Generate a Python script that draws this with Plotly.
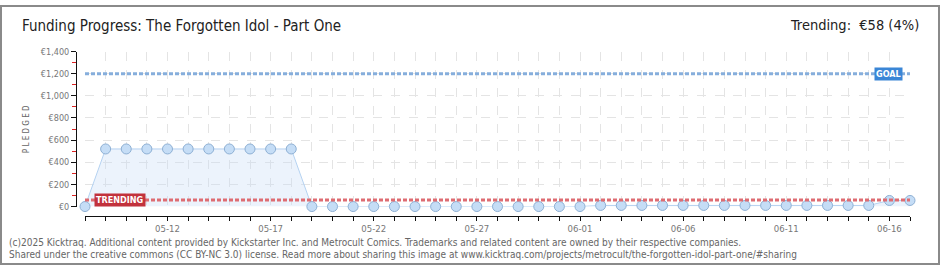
import plotly.graph_objects as go
import pandas as pd

# ---- data ----
dates = pd.date_range("2025-05-08", "2025-06-17", freq="D").strftime("%Y-%m-%d").tolist()
pledged = ([0] + [520] * 10 + [0] * 14 + [10] * 14 + [55, 55])
goal = 1200
trending = 58
title_text = "Funding Progress: The Forgotten Idol - Part One"
trend_text = "Trending:  €58 (4%)"
footer1 = "(c)2025 Kicktraq. Additional content provided by Kickstarter Inc. and Metrocult Comics. Trademarks and related content are owned by their respective companies."
footer2 = "Shared under the creative commons (CC BY-NC 3.0) license. Read more about sharing this image at www.kicktraq.com/projects/metrocult/the-forgotten-idol-part-one/#sharing"

W, H = 940, 270
px = lambda x: x / W
py = lambda y: 1 - y / H

NARROW = "Liberation Sans Narrow, DejaVu Sans Condensed, Arial Narrow, sans-serif"
TICKF = "DejaVu Sans Condensed, DejaVu Sans, sans-serif"

fig = go.Figure()

fig.add_trace(go.Scatter(
    x=dates, y=pledged, mode="lines+markers",
    line=dict(color="#b5d2f1", width=1),
    fill="tozeroy", fillcolor="rgba(200,222,247,0.35)",
    marker=dict(size=10, color="#c5ddf6", line=dict(color="#8eb0d4", width=1)),
    cliponaxis=False, showlegend=False, hoverinfo="x+y",
))

# goal & trending lines
for val, col in [(goal, "#86aedc"), (trending, "#de6c72")]:
    fig.add_shape(type="line", xref="x", yref="y", x0=dates[0], x1=dates[-1], y0=val, y1=val,
                  line=dict(color=col, width=3, dash="4px,2px"), layer="above")

fig.update_layout(
    width=W, height=H,
    margin=dict(l=0, r=0, t=0, b=0),
    paper_bgcolor="white", plot_bgcolor="white",
    xaxis=dict(
        domain=[px(85), px(910)],
        anchor="free", position=py(219),
        range=[dates[0], dates[-1]],
        type="date",
        tick0="2025-05-12", dtick=5 * 86400000, tickformat="%m-%d",
        ticks="outside", ticklen=4, tickcolor="#111", tickwidth=1,
        showline=True, linecolor="#111", linewidth=1,
        showgrid=True, gridcolor="#e4e4e4", griddash="dash", gridwidth=1,
        tickfont=dict(family=TICKF, size=9.5, color="#777"),
        minor=dict(dtick=86400000, ticks="outside", ticklen=4, tickcolor="#111",
                   showgrid=True, gridcolor="#e4e4e4", griddash="dash"),
        zeroline=False, fixedrange=True,
    ),
    yaxis=dict(
        domain=[py(209.3), py(48.3)],
        anchor="free", position=px(76),
        range=[0, 1400],
        dtick=200, tickprefix="€", tickformat=",d",
        ticks="outside", ticklen=5, tickcolor="#111", tickwidth=1,
        showline=True, linecolor="#111", linewidth=1,
        showgrid=True, gridcolor="#e4e4e4", griddash="dash",
        tickfont=dict(family=TICKF, size=9, color="#777"),
        minor=dict(dtick=100, ticks="outside", ticklen=4, tickcolor="#dd2222", showgrid=False),
        zeroline=False, fixedrange=True,
    ),
)

ann = [
    dict(x=px(20), y=py(22), text=title_text, xanchor="left", yanchor="middle",
         font=dict(family=NARROW, size=15, color="#222")),
    dict(x=px(921), y=py(21), text=trend_text, xanchor="right", yanchor="middle",
         font=dict(family=NARROW, size=14.5, color="#222")),
    dict(x=px(7), y=py(246.5), text=footer1, xanchor="left", yanchor="middle",
         font=dict(family=NARROW, size=10, color="#666")),
    dict(x=px(7), y=py(259.5), text=footer2, xanchor="left", yanchor="middle",
         font=dict(family=NARROW, size=10, color="#666")),
    dict(x=px(26), y=py(129), text="P L E D G E D", textangle=-90, xanchor="center", yanchor="middle",
         font=dict(family=TICKF, size=8, color="#666")),
    dict(x=px(888), y=py(72), text="<b>GOAL</b>", xanchor="center", yanchor="middle",
         bgcolor="#3a86d6", borderpad=1, font=dict(family=TICKF, size=9, color="white")),
    dict(x=px(120), y=py(202), text="<b>TRENDING</b>", xanchor="center", yanchor="middle",
         bgcolor="#c2323c", borderpad=1, font=dict(family=TICKF, size=9, color="white")),
]
for a in ann:
    a.update(xref="paper", yref="paper", showarrow=False)
fig.update_layout(annotations=ann)

fig.add_shape(type="rect", xref="paper", yref="paper", x0=px(1), x1=px(939), y0=py(269), y1=py(1),
              line=dict(color="#8a8a8a", width=2), layer="above")

fig.write_html("out.html")
